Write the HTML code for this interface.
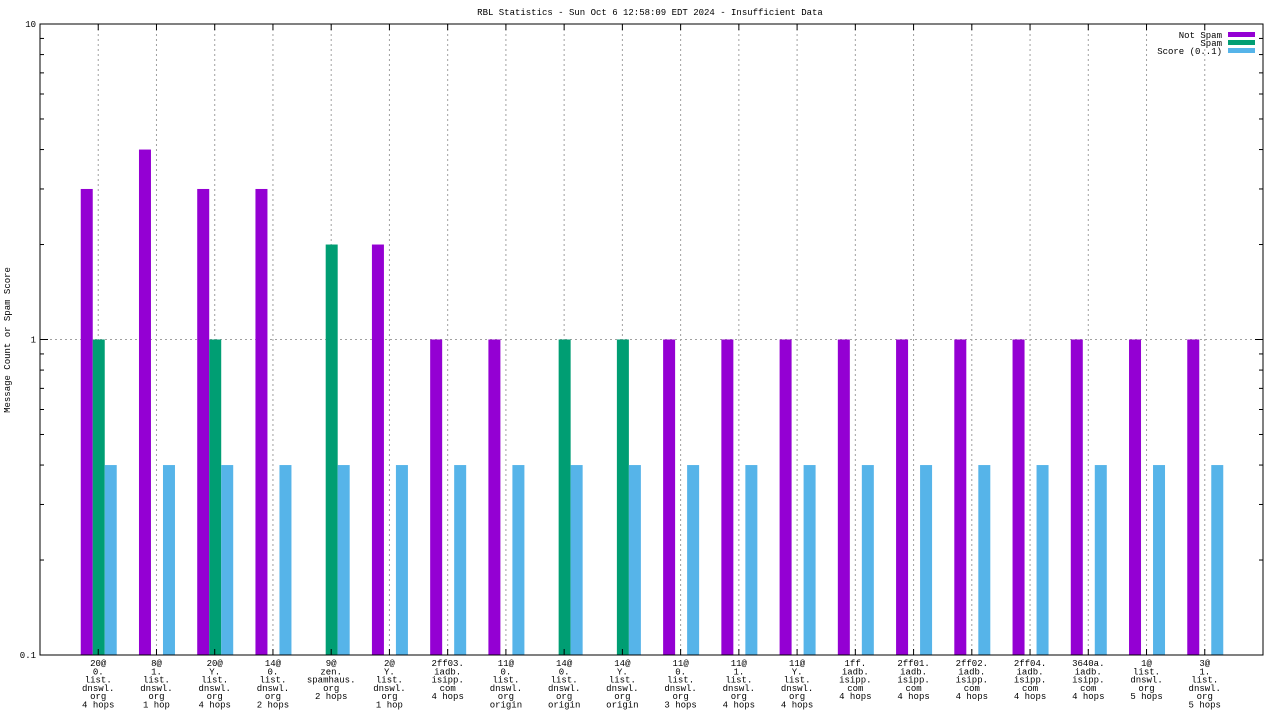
<!DOCTYPE html>
<html><head><meta charset="utf-8"><style>
body{margin:0;background:#fff}
svg text{font-family:"Liberation Mono",monospace;font-size:9px;fill:#000}
</style></head><body>
<svg id="c" width="1280" height="720" xmlns="http://www.w3.org/2000/svg">
<rect width="1280" height="720" fill="#fff"/>
<text x="650" y="15" text-anchor="middle">RBL Statistics - Sun Oct  6 12:58:09 EDT 2024 - Insufficient Data</text>
<text transform="translate(10,340) rotate(-90)" text-anchor="middle">Message Count or Spam Score</text>
<g id="grid"></g><g id="bars"></g><g id="ax"></g>
<g>
<text x="1222" y="38" text-anchor="end">Not Spam</text>
<rect x="1228" y="32" width="27" height="5" fill="#9400d3"/>
<text x="1222" y="46" text-anchor="end">Spam</text>
<rect x="1228" y="40" width="27" height="5" fill="#009e73"/>
<text x="1222" y="54" text-anchor="end">Score (0..1)</text>
<rect x="1228" y="48" width="27" height="5" fill="#56b4e9"/>
</g>
</svg>
<script>
const categories=[["20@","0.","list.","dnswl.","org","4 hops"],["8@","1.","list.","dnswl.","org","1 hop"],["20@","Y.","list.","dnswl.","org","4 hops"],["14@","0.","list.","dnswl.","org","2 hops"],["9@","zen.","spamhaus.","org","2 hops"],["2@","Y.","list.","dnswl.","org","1 hop"],["2ff03.","iadb.","isipp.","com","4 hops"],["11@","0.","list.","dnswl.","org","origin"],["14@","0.","list.","dnswl.","org","origin"],["14@","Y.","list.","dnswl.","org","origin"],["11@","0.","list.","dnswl.","org","3 hops"],["11@","1.","list.","dnswl.","org","4 hops"],["11@","Y.","list.","dnswl.","org","4 hops"],["1ff.","iadb.","isipp.","com","4 hops"],["2ff01.","iadb.","isipp.","com","4 hops"],["2ff02.","iadb.","isipp.","com","4 hops"],["2ff04.","iadb.","isipp.","com","4 hops"],["3640a.","iadb.","isipp.","com","4 hops"],["1@","list.","dnswl.","org","5 hops"],["3@","1.","list.","dnswl.","org","5 hops"]];
const notSpam=[3,4,3,3,0,2,1,1,0,0,1,1,1,1,1,1,1,1,1,1];
const spam=[1,0,1,0,2,0,0,0,1,1,0,0,0,0,0,0,0,0,0,0];
const score=[0.4,0.4,0.4,0.4,0.4,0.4,0.4,0.4,0.4,0.4,0.4,0.4,0.4,0.4,0.4,0.4,0.4,0.4,0.4,0.4];
const yTicks=[0.1,1,10];
const yTickLabels=["0.1","1","10"];
const NS="http://www.w3.org/2000/svg";
const L=40,R=1263,T=24,B=655;
const step=(R-L)/21;
function xc(i){return L+(i+1)*step;}
function y(v){return B-(Math.log10(v)+1)/2*(B-T);}
function mk(tag,attrs,parent){const e=document.createElementNS(NS,tag);for(const k in attrs)e.setAttribute(k,attrs[k]);document.getElementById(parent).appendChild(e);return e;}
categories.forEach((c,i)=>{const l=mk('line',{x1:xc(i),x2:xc(i),y1:T,y2:B,stroke:'#a0a0a0','stroke-dasharray':'2,3','stroke-width':1},'grid');

});
const hg=mk('line',{x1:L,x2:R,y1:y(1),y2:y(1),stroke:'#a0a0a0','stroke-dasharray':'2,3'},'grid');


const series=[[notSpam,'#9400d3',-11.5,'not-spam'],[spam,'#009e73',0.5,'spam'],[score,'#56b4e9',12.5,'score']];
series.forEach(([arr,col,off,nm])=>{arr.forEach((v,i)=>{if(v<=0)return;const yy=y(v);
const r=mk('rect',{x:xc(i)+off-6,y:yy,width:12,height:B-yy,fill:col},'bars');

});});
const fr=mk('rect',{x:L,y:T,width:R-L,height:B-T,fill:'none',stroke:'#000','stroke-width':1},'ax');


yTicks.forEach((v,k)=>{const t=mk('text',{x:L-4,y:y(v)+3,'text-anchor':'end'},'ax');t.textContent=yTickLabels[k];


mk('line',{x1:L,x2:L+8,y1:y(v),y2:y(v),stroke:'#000'},'ax');mk('line',{x1:R-8,x2:R,y1:y(v),y2:y(v),stroke:'#000'},'ax');
if(k<yTicks.length-1){for(let m=2;m<=9;m++){const yy=y(v*m);mk('line',{x1:L,x2:L+4,y1:yy,y2:yy,stroke:'#000'},'ax');mk('line',{x1:R-4,x2:R,y1:yy,y2:yy,stroke:'#000'},'ax');}}});
categories.forEach((c,i)=>{const t=mk('text',{x:xc(i),y:666,'text-anchor':'middle'},'ax');


c.forEach((s,j)=>{const ts=document.createElementNS(NS,'tspan');ts.setAttribute('x',xc(i));ts.setAttribute('y',666+j*8.3);ts.textContent=s;t.appendChild(ts);});
mk('line',{x1:xc(i),x2:xc(i),y1:B,y2:B-6,stroke:'#000'},'ax');mk('line',{x1:xc(i),x2:xc(i),y1:T,y2:T+6,stroke:'#000'},'ax');});
</script>
</body></html>
